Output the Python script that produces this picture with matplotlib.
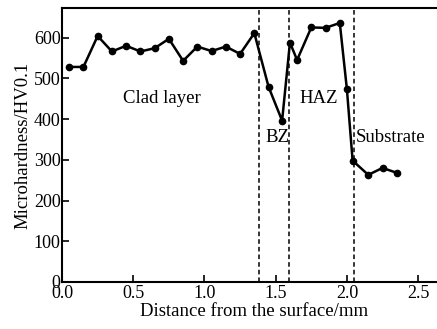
import matplotlib
matplotlib.use("Agg")
import matplotlib.pyplot as plt

plt.rcParams['font.family'] = ['Liberation Serif', 'DejaVu Serif']

# distance (mm) and microhardness (HV0.1)
dist = [0.05, 0.15, 0.25, 0.35, 0.45, 0.55, 0.65, 0.75, 0.85, 0.95, 1.05,
        1.15, 1.25, 1.35, 1.45, 1.545, 1.6, 1.65, 1.75, 1.85, 1.95, 2.0,
        2.04, 2.15, 2.25, 2.35]
hv = [528, 528, 604, 566, 580, 566, 574, 597, 543, 578, 567,
      578, 560, 611, 479, 396, 588, 545, 625, 624, 636, 473,
      298, 263, 280, 268]
bounds = [1.385, 1.595, 2.05]
zones = ["Clad layer", "BZ", "HAZ", "Substrate"]
zone_xy = [(0.43, 450), (1.425, 355), (1.67, 450), (2.065, 355)]

fig = plt.figure(figsize=(4.37, 3.29), dpi=100)
ax = fig.add_axes([0.142, 0.143, 0.88, 0.833])
ax.plot(dist, hv, 'k-', lw=1.8, marker='o', ms=4.5)
for b in bounds:
    ax.axvline(b, color='k', ls='--', lw=1.1, dashes=(3, 2))
for z, (x, y) in zip(zones, zone_xy):
    ax.text(x, y, z, fontsize=13.5, va='center')

ax.set_xlim(0, 2.7)
ax.set_ylim(0, 673)
ax.set_xticks([0.0, 0.5, 1.0, 1.5, 2.0, 2.5])
ax.set_xticklabels(['0.0', '0.5', '1.0', '1.5', '2.0', '2.5'])
ax.set_yticks([0, 100, 200, 300, 400, 500, 600])
ax.tick_params(direction='in', length=5, width=1.2, labelsize=13)
ax.tick_params(axis='x', pad=2)
ax.tick_params(axis='y', pad=1)
for s in ax.spines.values():
    s.set_linewidth(1.5)
ax.set_xlabel("Distance from the surface/mm", fontsize=13.5, labelpad=1)
ax.set_ylabel("Microhardness/HV0.1", fontsize=13.5, labelpad=2)

fig.savefig("out.png", dpi=100)
